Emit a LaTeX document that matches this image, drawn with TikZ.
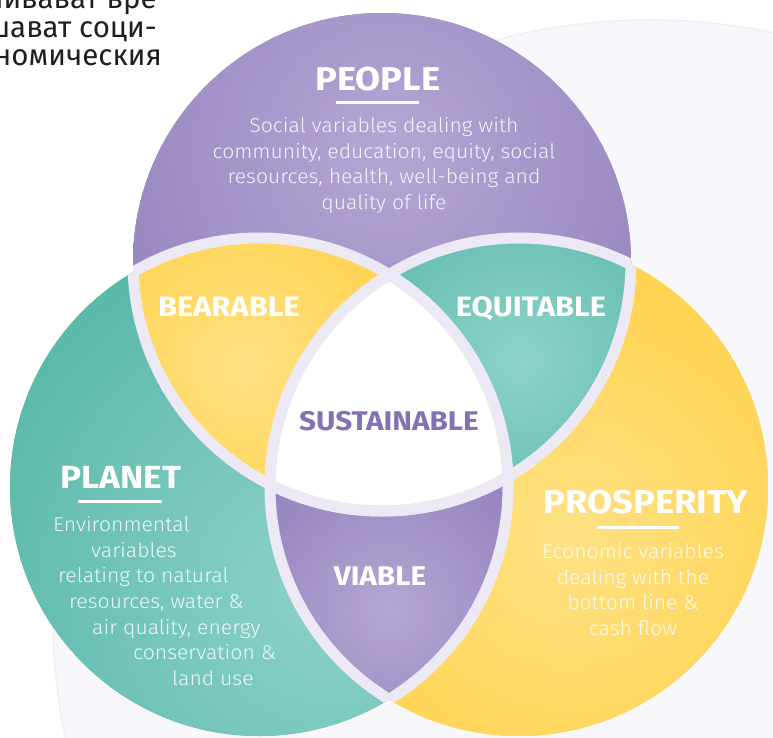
\documentclass[tikz,border=0pt]{standalone}
\usepackage{fontspec}
\setmainfont{Fira Sans}
\newfontfamily\lightfont{Fira Sans Light}[FakeStretch=1.06]
\newfontfamily\headfont{Fira Sans}[FakeStretch=1.1]
\usetikzlibrary{positioning}

\definecolor{purplebase}{HTML}{8471B2}
\definecolor{purplelight}{HTML}{B4A6D4}
\definecolor{tealbase}{HTML}{41AD9B}
\definecolor{teallight}{HTML}{8ED2C8}
\definecolor{yellowbase}{HTML}{FFC928}
\definecolor{yellowlight}{HTML}{FFE184}
\definecolor{bandlav}{HTML}{ECE9F4}
\definecolor{haze}{HTML}{F8F7FB}
\definecolor{hazeline}{HTML}{F0EFF6}
\definecolor{titlepurple}{HTML}{8470B3}

\begin{document}
\begin{tikzpicture}[x=1pt,y=-1pt,
    heading/.style={text=white, font=\headfont\bfseries\fontsize{#1}{#1}\selectfont, inner sep=0pt, anchor=base},
    heading/.default=28,
    desc/.style={text=white, text opacity=0.88, font=\lightfont\fontsize{20}{25.5}\selectfont, align=center, inner sep=0pt, anchor=base},
    intro/.style={text=black!88, font=\fontsize{29.5}{29.5}\selectfont, inner sep=0pt, anchor=base east},
    rule/.style={white, line width=3pt},
    band/.style={draw=bandlav, line width=11pt}]

    % Define the canvas
    \fill[white] (0,0) rectangle (773,738);
    \useasboundingbox (0,0) rectangle (773,738);
    \clip (0,0) rectangle (773,738);
    \fill[haze, draw=hazeline, line width=1.5pt] (650,617) circle[radius=597];

    % Text cut off at the top left
    \node[intro] (intro1) at (157,9) {ливават вре};
    \node[intro] (intro2) at (157,37.5) {шават соци-};
    \node[intro] (intro3) at (162,66) {ономическия};

    % Define the centres of the circles
    \coordinate (people) at (382,262);
    \coordinate (planet) at (259,487);
    \coordinate (prosperity) at (519,487);

    % Fill the circles
    \fill[purplebase] (people) circle[radius=249];
    \begin{scope}
        \clip (people) circle[radius=249];
        \shade[inner color=purplelight, outer color=purplebase] (390,150) circle[radius=500];
    \end{scope}
    \fill[tealbase] (planet) circle[radius=249];
    \begin{scope}
        \clip (planet) circle[radius=249];
        \shade[inner color=teallight, outer color=tealbase] (330,590) circle[radius=560];
    \end{scope}
    \fill[yellowbase] (prosperity) circle[radius=249];
    \begin{scope}
        \clip (prosperity) circle[radius=249];
        \shade[inner color=yellowlight, outer color=yellowbase] (570,540) circle[radius=480];
    \end{scope}

    % Fill the overlaps
    \begin{scope}
        \clip (people) circle[radius=249];
        \clip (planet) circle[radius=249];
        \shade[inner color=yellowlight, outer color=yellowbase] (245,365) circle[radius=300];
    \end{scope}
    \begin{scope}
        \clip (people) circle[radius=249];
        \clip (prosperity) circle[radius=249];
        \shade[inner color=teallight, outer color=tealbase] (520,360) circle[radius=300];
    \end{scope}
    \begin{scope}
        \clip (planet) circle[radius=249];
        \clip (prosperity) circle[radius=249];
        \shade[inner color=purplelight, outer color=purplebase] (390,610) circle[radius=260];
    \end{scope}
    \begin{scope}
        \clip (people) circle[radius=249];
        \clip (planet) circle[radius=249];
        \clip (prosperity) circle[radius=249];
        \fill[white] (people) circle[radius=249];
    \end{scope}

    % Draw the bands, only where a circle lies over another one
    \foreach \a/\b in {people/planet, people/prosperity, planet/people, planet/prosperity, prosperity/people, prosperity/planet} {
        \begin{scope}
            \clip (\b) circle[radius=249];
            \draw[band] (\a) circle[radius=249];
        \end{scope}
    }

    % Headings
    \node[heading=33] (peoplehead) at (378,91) {PEOPLE};
    \node[heading=32] (planethead) at (121,488) {PLANET};
    \node[heading=33] (prosperityhead) at (646,513) {PROSPERITY};
    \node[heading] (bearable) at (229,316) {BEARABLE};
    \node[heading] (equitable) at (531,316) {EQUITABLE};
    \node[heading=27] (viable) at (380,585) {VIABLE};
    \node[heading=27, text=titlepurple] (sustainable) at (389,430) {SUSTAINABLE};

    \draw[rule] (336,103) -- (419,103);
    \draw[rule] (78,501) -- (162,501);
    \draw[rule] (597,527) -- (679,527);

    % Descriptions (the node's base is its last line)
    \node[desc] (peopledesc) at (384,209) {Social variables dealing with\\community, education, equity, social\\resources, health, well-being and\\quality of life};
    \node[desc] (prosperitydesc) at (633,635) {Economic variables\\dealing with the\\bottom line \&\\cash flow};
    \foreach \lx/\ly/\ltext [count=\i] in {53/531/Environmental, 91/557/variables, 58/582/relating to natural, 69/608/{resources, water \&}, 92/634/{air quality, energy}, 133/659/conservation \&, 172/685/land use}
        \node[desc, anchor=base west] (planetdesc\i) at (\lx,\ly) {\ltext};
\end{tikzpicture}
\end{document}
